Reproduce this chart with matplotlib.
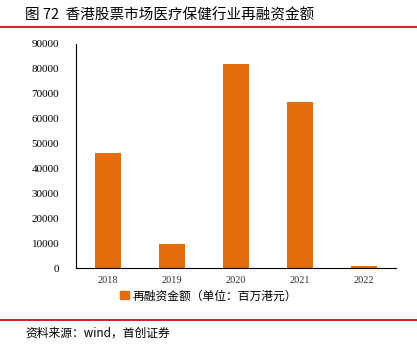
import matplotlib.pyplot as plt
from matplotlib.lines import Line2D
from matplotlib.patches import Patch

years = ["2018", "2019", "2020", "2021", "2022"]
refinancing = [46200, 9600, 81800, 66700, 800]
y_ticks = [0, 10000, 20000, 30000, 40000, 50000, 60000, 70000, 80000, 90000]

plt.rcParams['font.family'] = ['Noto Sans CJK SC', 'DejaVu Sans']
bar_color = "#E46C0A"

fig = plt.figure(figsize=(4.17, 3.49), dpi=100)
ax = fig.add_axes([0.182, 0.232, 0.768, 0.642])

ax.bar(range(len(years)), refinancing, width=0.4, color=bar_color)
ax.set_xlim(-0.5, len(years) - 0.5)
ax.set_ylim(0, 90000)
ax.set_yticks(y_ticks)
ax.set_yticklabels([str(v) for v in y_ticks], family="Liberation Serif", fontsize=8)
ax.set_xticks(range(len(years)))
ax.set_xticklabels(years, family="Liberation Serif", fontsize=7.5, color="#333333")
ax.tick_params(axis="both", length=0)
ax.tick_params(axis="y", pad=12)
ax.tick_params(axis="x", pad=6)
for s in ["top", "right"]:
    ax.spines[s].set_visible(False)
ax.spines["left"].set_color("black")
ax.spines["bottom"].set_color("black")

handle = Patch(color=bar_color)
fig.legend([handle], ["再融资金额（单位：百万港元）"], loc="center",
           bbox_to_anchor=(0.5, 0.152), frameon=False, fontsize=8.5,
           handlelength=0.7, handleheight=0.7, handletextpad=0.3)

fig.text(0.06, 0.958, "图 72  香港股票市场医疗保健行业再融资金额", fontsize=10.5,
         va="center", ha="left")
fig.add_artist(Line2D([0, 1], [0.922, 0.922], color="#C00000", lw=1.2))
fig.add_artist(Line2D([0, 1], [0.083, 0.083], color="#C00000", lw=1.2))
fig.text(0.06, 0.045, "资料来源：wind，首创证券", fontsize=8.5, style="italic",
         va="center", ha="left")

fig.savefig("out.png", dpi=100)
